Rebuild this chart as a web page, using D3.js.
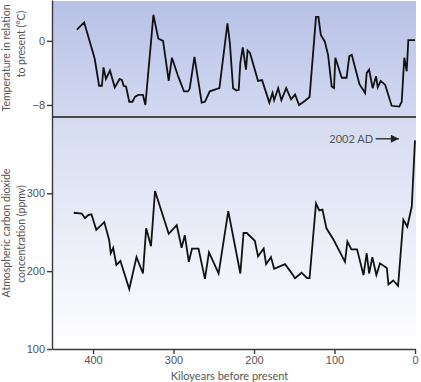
<!DOCTYPE html>
<html>
<head>
<meta charset="utf-8">
<script src="https://cdn.jsdelivr.net/npm/d3@7"></script>
<style>
  body { margin: 0; background: #fff; }
  svg { display: block; font-family: Lato, "Open Sans", sans-serif; }
  .axis text { font-size: 11px; fill: #555; }
  .axis path, .axis line { stroke: #3a3a3a; stroke-width: 1.4; }
  .title { font-size: 11px; fill: #555; }
  .vtitle { font-size: 10.5px; fill: #555; }
</style>
</head>
<body>
<svg id="chart" width="421" height="382"></svg>
<script>
// temperature record (kiloyears before present, deg C relative to present)
const tempAge = [420, 411, 398, 392.5, 389, 387, 384, 379, 373, 367, 364, 362, 359, 355, 351, 348, 344, 338, 335,
  325, 319, 313, 306, 302, 294, 287, 282, 280, 274, 265, 261, 255, 243, 233, 230, 226, 222, 219, 217, 214, 210,
  208, 205, 199, 195, 190, 181, 177, 175, 170, 166, 160, 154, 149, 144, 137, 131, 123, 120, 117, 112, 108, 103.5,
  100.6, 99, 91, 85, 81.6, 78.6, 69, 62, 60, 57, 52.6, 48.4, 46.3, 42.6, 37, 29, 19.5, 16.5, 13.3, 10.3, 8.3, 0];
const tempValue = [1.4, 2.3, -2.2, -5.6, -5.6, -3.3, -4.75, -3.7, -5.8, -4.75, -4.9, -5.6, -5.7, -7.6, -7.6, -7, -6.75, -6.75, -8,
  3.25, 0.3, 0, -5, -2.1, -4.5, -6.3, -6.3, -6, -2, -7.7, -7.6, -6.3, -5.9, 2.2, -0.3, -5.9, -6.2, -6.1, -2.7, -0.8, -3.6,
  -1.2, -1.5, -3.6, -5, -4.9, -7.7, -6.5, -7.4, -5.9, -7.4, -5.9, -7.3, -6.7, -8, -7.5, -7, 3, 3, 0.75, -0.1, -1.75, -5.7,
  -5.9, -2.1, -4.6, -4.6, -1.9, -1.75, -5.4, -6.5, -4, -3.6, -5.9, -4.4, -5.8, -5, -5.5, -8.1, -8.2, -7.6, -2.1, -3.8, 0.1, 0.1];

// carbon dioxide record (kiloyears before present, ppmv)
const co2Age = [424, 414, 410, 406, 402, 396, 386, 380, 378, 375, 371, 366, 355, 346, 338, 334, 328, 323, 306, 296,
  290, 286, 281, 277, 269, 261, 256, 244, 232, 217, 213, 209, 199, 195, 188, 185, 179, 175, 161.5, 155, 149, 141, 134,
  131, 123, 119, 115, 110, 101, 87, 84, 79, 72, 64, 60, 57, 53, 48, 43.5, 35, 33, 27, 21, 14.5, 9.6, 4, 0];
const co2Value = [275, 274, 268, 272, 273, 253, 263, 240, 223, 230, 208, 213, 177, 218, 197, 255, 232, 303, 248, 259,
  230, 246, 212, 229, 229, 190, 224, 197, 277, 197, 249, 249, 239, 219, 229, 209, 218, 203, 209, 200, 191, 198, 191,
  191, 287, 278, 279, 255, 240, 212, 238, 228, 228, 195, 223, 197, 218, 195, 210, 204, 183, 188, 181, 266, 257, 283, 368];

const ageTicks = [400, 300, 200, 100, 0];
const tempTicks = [0, -8];
const co2Ticks = [300, 200, 100];

const svg = d3.select('#chart');
const left = 52, right = 415, panelRight = 416;
const split = 117, bottom = 349;

const x = d3.scaleLinear().domain([451, 0]).range([left, right]);
const yTemp = d3.scaleLinear().domain([-9.5, 5.1]).range([split, 0]);
const yCo2 = d3.scaleLinear().domain([100, 398]).range([bottom, split]);

// panel backgrounds
const defs = svg.append('defs');
const g1 = defs.append('linearGradient').attr('id', 'topBg').attr('x1', 0).attr('y1', 0).attr('x2', 0).attr('y2', 1);
g1.append('stop').attr('offset', '0%').attr('stop-color', '#b7c1e6');
g1.append('stop').attr('offset', '100%').attr('stop-color', '#d3d9f1');
const g2 = defs.append('linearGradient').attr('id', 'botBg').attr('x1', 0).attr('y1', 0).attr('x2', 0).attr('y2', 1);
g2.append('stop').attr('offset', '0%').attr('stop-color', '#d5dbf1');
g2.append('stop').attr('offset', '100%').attr('stop-color', '#ffffff');

svg.append('rect').attr('x', left).attr('y', 1).attr('width', panelRight - left).attr('height', split - 1)
  .attr('fill', 'url(#topBg)');
svg.append('rect').attr('x', left).attr('y', split).attr('width', panelRight - left).attr('height', bottom - split)
  .attr('fill', 'url(#botBg)');

// lines
const tempLine = d3.line().x(d => x(d[0])).y(d => yTemp(d[1]));
const co2Line = d3.line().x(d => x(d[0])).y(d => yCo2(d[1]));

svg.append('path')
  .datum(tempAge.map((a, i) => [a, tempValue[i]]))
  .attr('d', tempLine)
  .attr('fill', 'none').attr('stroke', '#111').attr('stroke-width', 1.8).attr('stroke-linejoin', 'miter');

svg.append('path')
  .datum(co2Age.map((a, i) => [a, co2Value[i]]))
  .attr('d', co2Line)
  .attr('fill', 'none').attr('stroke', '#111').attr('stroke-width', 1.8).attr('stroke-linejoin', 'miter');

// separator between panels
svg.append('line').attr('x1', left).attr('x2', panelRight).attr('y1', split).attr('y2', split)
  .attr('stroke', '#4a4a4a').attr('stroke-width', 2);

// axes
svg.append('g').attr('class', 'axis').attr('transform', `translate(${left},0)`)
  .call(d3.axisLeft(yTemp).tickValues(tempTicks).tickSize(5).tickPadding(2).tickSizeOuter(0)
    .tickFormat(d => d < 0 ? '\u2212' + Math.abs(d) : d));
svg.append('g').attr('class', 'axis').attr('transform', `translate(${left},0)`)
  .call(d3.axisLeft(yCo2).tickValues(co2Ticks).tickSize(5).tickPadding(2).tickSizeOuter(0));
svg.append('g').attr('class', 'axis').attr('transform', `translate(0,${bottom})`)
  .call(d3.axisBottom(x).tickValues(ageTicks).tickSize(5).tickPadding(2).tickSizeOuter(0));

// axis titles
const vTitle = (txt, cx, cy) => svg.append('text').attr('class', 'vtitle')
  .attr('transform', `translate(${cx},${cy}) rotate(-90)`)
  .attr('text-anchor', 'middle').text(txt);
vTitle('Temperature in relation', 10, 58);
vTitle('to present (\u00b0C)', 25, 44);
vTitle('Atmospheric carbon dioxide', 10, 233);
vTitle('concentration (ppmv)', 25, 234);

svg.append('text').attr('class', 'title')
  .attr('x', (left + right) / 2 - 4).attr('y', 380)
  .attr('text-anchor', 'middle').text('Kiloyears before present');

// 2002 AD annotation
defs.append('marker').attr('id', 'arrow').attr('viewBox', '0 0 10 10')
  .attr('refX', 10).attr('refY', 5).attr('markerWidth', 10).attr('markerHeight', 8)
  .attr('markerUnits', 'userSpaceOnUse').attr('orient', 'auto')
  .append('path').attr('d', 'M0,0L10,5L0,10Z').attr('fill', '#222');

const annY = yCo2(370);
svg.append('text').attr('class', 'title')
  .attr('x', x(52)).attr('y', annY + 4).attr('text-anchor', 'end').text('2002 AD');
svg.append('line').attr('x1', x(49)).attr('x2', x(20)).attr('y1', annY).attr('y2', annY)
  .attr('stroke', '#222').attr('stroke-width', 1.3).attr('marker-end', 'url(#arrow)');
</script>
</body>
</html>
